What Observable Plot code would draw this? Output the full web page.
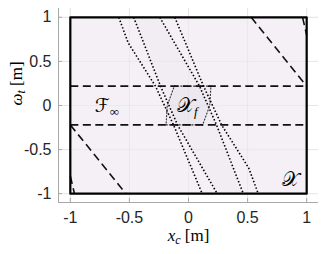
<!DOCTYPE html>
<html>
<head>
<meta charset="utf-8">
<script src="https://cdn.jsdelivr.net/npm/d3@7"></script>
<script src="https://cdn.jsdelivr.net/npm/@observablehq/plot@0.6"></script>
<style>
  html, body { margin: 0; padding: 0; background: #fff; }
  #chart svg { display: block; }
</style>
</head>
<body>
<div id="chart"></div>
<script>
// ---- data ----
const xTicks = [-1, -0.5, 0, 0.5, 1];
const yTicks = [-1, -0.5, 0, 0.5, 1];
const xTickLabels = ["-1", "-0.5", "0", "0.5", "1"];
const yTickLabels = ["-1", "-0.5", "0", "0.5", "1"];

// state constraint set X (box)
const setXx = [-1, 1, 1, -1];
const setXy = [-1, -1, 1, 1];

// terminal set X_f (hexagon)
const setXfx = [-0.12, 0.19, 0.18, 0.12, -0.19, -0.18];
const setXfy = [0.22, 0.22, 0.0, -0.22, -0.22, 0.0];

// dotted boundary curves (four)
const curveA_x = [-0.59, -0.51, -0.28, -0.127, 0.116];
const curveA_y = [1, 0.71, 0.22, -0.22, -1];
const curveB_x = [-0.464, -0.237, -0.093, 0.243];
const curveB_y = [1, 0.22, -0.22, -1];
const curveC_x = [-0.243, 0.093, 0.237, 0.464];
const curveC_y = [1, 0.22, -0.22, -1];
const curveD_x = [-0.116, 0.127, 0.28, 0.51, 0.59];
const curveD_y = [1, 0.22, -0.22, -0.71, -1];

// dashed boundary segments of F_inf
const dashSegX1 = [-1, -1, 0.53, -1, 0.965, -1];
const dashSegY1 = [0.22, -0.22, 1, -0.22, 1, -0.8];
const dashSegX2 = [1, 1, 1, -0.53, 1, -0.965];
const dashSegY2 = [0.22, -0.22, 0.22, -1, 0.8, -1];

// set labels
const labelNames = ["F", "Xf", "X"];
const labelX = [-0.69, -0.01, 0.86];
const labelY = [-0.01, -0.01, -0.85];

// ---- build tables ----
const poly = (xs, ys, id) => xs.map((x, i) => ({x, y: ys[i], id}));
const boxX = poly(setXx, setXy, "X");
const hexXf = poly(setXfx, setXfy, "Xf");
const curves = [
  ...poly(curveA_x, curveA_y, "A"),
  ...poly(curveB_x, curveB_y, "B"),
  ...poly(curveC_x, curveC_y, "C"),
  ...poly(curveD_x, curveD_y, "D")
];
const bandBC = [...poly(curveB_x, curveB_y, "band"), ...poly(curveC_x, curveC_y, "band").reverse()];
const dashSegs = dashSegX1.map((x1, i) => ({x1, y1: dashSegY1[i], x2: dashSegX2[i], y2: dashSegY2[i]}));
const labels = labelNames.map((n, i) => ({n, x: labelX[i], y: labelY[i]}));

const axisColor = "#a8a8a8";
const textColor = "#262626";

const chart = Plot.plot({
  width: 332,
  height: 254,
  marginLeft: 58,
  marginRight: 14,
  marginTop: 8,
  marginBottom: 52,
  x: {domain: [-1.1, 1.1]},
  y: {domain: [-1.1, 1.1]},
  style: {background: "#fff", overflow: "visible"},
  marks: [
    Plot.gridX(xTicks, {stroke: "#dcdcdc", strokeOpacity: 1, strokeWidth: 0.6}),
    Plot.gridY(yTicks, {stroke: "#dcdcdc", strokeOpacity: 1, strokeWidth: 0.6}),
    Plot.line([...boxX, boxX[0]], {x: "x", y: "y", fill: "#f3eff5", fillOpacity: 0.92, stroke: "none"}),
    Plot.line([...bandBC, bandBC[0]], {x: "x", y: "y", fill: "#5a3a5a", fillOpacity: 0.014, stroke: "none"}),
    Plot.line([...hexXf, hexXf[0]], {x: "x", y: "y", fill: "#6a5a70", fillOpacity: 0.03, stroke: "#333", strokeWidth: 1.1, strokeDasharray: "1.2,2"}),
    Plot.gridX(xTicks, {stroke: "#dcdcdc", strokeOpacity: 0.6, strokeWidth: 0.6}),
    Plot.gridY(yTicks, {stroke: "#dcdcdc", strokeOpacity: 0.6, strokeWidth: 0.6}),
    Plot.line(curves, {x: "x", y: "y", z: "id", stroke: "#000", strokeWidth: 1.6, strokeDasharray: "1.5,2", strokeLinecap: "butt"}),
    Plot.link(dashSegs, {x1: "x1", y1: "y1", x2: "x2", y2: "y2", stroke: "#111", strokeWidth: 1.6, strokeDasharray: "8,4.5"}),
    Plot.line([...boxX, boxX[0]], {x: "x", y: "y", stroke: "#000", strokeWidth: 2.2}),
    Plot.ruleX([-1.1], {stroke: axisColor, strokeWidth: 1}),
    Plot.ruleY([-1.1], {stroke: axisColor, strokeWidth: 1}),
    Plot.axisX(xTicks, {anchor: "bottom", tickSize: -4, stroke: axisColor, tickFormat: () => "", label: null}),
    Plot.axisY(yTicks, {anchor: "left", tickSize: -4, stroke: axisColor, tickFormat: () => "", label: null}),
    Plot.axisX(xTicks, {anchor: "bottom", tickSize: 0, tickPadding: 9, tickFormat: (d, i) => xTickLabels[i], label: null,
      fill: textColor, fontSize: 16, fontFamily: "Liberation Sans, Arial, sans-serif"}),
    Plot.axisY(yTicks, {anchor: "left", tickSize: 0, tickPadding: 7, tickFormat: (d, i) => yTickLabels[i], label: null,
      fill: textColor, fontSize: 16, fontFamily: "Liberation Sans, Arial, sans-serif"}),
    Plot.text(labels, {x: "x", y: "y", text: "n", className: "setlab", fontSize: 18, fill: "#000",
      fontFamily: "Liberation Serif, DejaVu Serif, serif", fontStyle: "italic"}),
    Plot.text(["xlab"], {frameAnchor: "bottom", dy: 38, className: "xlab", fontSize: 17, fill: "#000",
      fontFamily: "Liberation Serif, DejaVu Serif, serif"}),
    Plot.text(["ylab"], {frameAnchor: "left", dx: -42, rotate: -90, className: "ylab", fontSize: 17, fill: "#000",
      fontFamily: "Liberation Serif, DejaVu Serif, serif"})
  ]
});

document.getElementById("chart").appendChild(chart);

const svgNS = "http://www.w3.org/2000/svg";
function setRich(textEl, parts) {
  while (textEl.firstChild) textEl.removeChild(textEl.firstChild);
  for (const p of parts) {
    const t = document.createElementNS(svgNS, "tspan");
    t.textContent = p.t;
    t.setAttribute("font-style", p.italic ? "italic" : "normal");
    if (p.size) t.setAttribute("font-size", p.size);
    if (p.dy) t.setAttribute("dy", p.dy);
    if (p.family) t.setAttribute("font-family", p.family);
    textEl.appendChild(t);
  }
}
const script = "DejaVu Sans, Noto Sans, serif";
chart.querySelectorAll(".setlab text").forEach(el => {
  const n = el.textContent;
  if (n === "F") setRich(el, [{t: "\u2131", italic: false, family: script, size: 19}, {t: "\u221E", size: 13, dy: 4}]);
  if (n === "Xf") setRich(el, [{t: "\uD835\uDCB3", italic: false, family: script, size: 20}, {t: "f", italic: true, size: 13, dy: 4}]);
  if (n === "X") setRich(el, [{t: "\uD835\uDCB3", italic: false, family: script, size: 20}]);
});
chart.querySelectorAll(".xlab text").forEach(el => {
  setRich(el, [{t: "x", italic: true}, {t: "c", italic: true, size: 12, dy: 3}, {t: " [m]", dy: -3}]);
});
chart.querySelectorAll(".ylab text").forEach(el => {
  setRich(el, [{t: "\u03C9", italic: true}, {t: "t", italic: true, size: 12, dy: 3}, {t: " [m]", dy: -3}]);
});
</script>
</body>
</html>
